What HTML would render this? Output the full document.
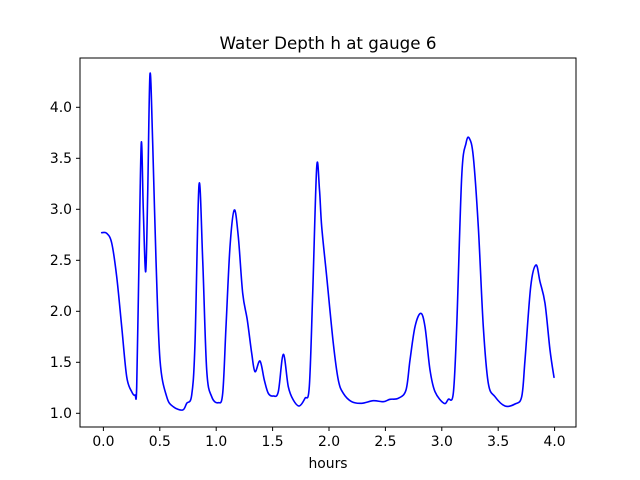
<!DOCTYPE html>
<html><head><meta charset="utf-8"><style>
html,body{margin:0;padding:0;background:#fff;}
svg{display:block;}
text{font-family:"DejaVu Sans","Liberation Sans",sans-serif;font-size:13.9px;fill:#000;}
</style></head><body>
<svg width="640" height="480" viewBox="0 0 640 480" xmlns="http://www.w3.org/2000/svg">
<rect width="640" height="480" fill="#fff"/>
<polyline id="pl" fill="none" stroke="#0000ff" stroke-width="1.6" stroke-linejoin="round" stroke-linecap="round" points="
101.7,232.7 106.7,233.3 111.7,243 116.7,276.7 121.7,326.7 126.7,376.7 131.7,391.7 135,395 136.7,386.7 139,260 141.3,142.7 143.3,210 145.7,271.7 147.7,193.3 150,74 152.7,143.3 156,260 160,360 166.7,396.7 173.3,406.7 182.7,410 186.7,403.3 191.7,395 195,343.3 199,185 202.7,260 206.7,370 211.7,396.7 218.3,402.7 222.7,393.3 226,326.7 230,246.7 234.3,210 238.3,236.7 242.7,293.3 247.3,320 251.7,353.3 255,371.7 260,361 264.3,380 268.3,393.3 273.3,396 278.3,391.7 283.3,354.3 288.3,386.7 293.3,400 299.3,406 305,398.3 309.3,386.7 312.7,293.3 316.7,167.3 319.5,190 321.7,226.7 326.7,276.7 333.3,343.3 338.3,380 343.3,393.3 351.7,401.7 361.7,403.3 373.3,400.7 383.3,401.7 390,399.3 398.3,398.3 406,390 410,360 415,326.7 420.7,313.3 425,326.7 430,370 435,391.7 444,403.3 448.3,399.3 453.3,393.3 456.7,326.7 461.7,176.7 466,143.3 469.3,138.3 473.3,156.7 478.3,226.7 483.3,326.7 488.3,383.3 495,396.7 505,406 515,404 521.7,396.7 525,360 530.7,286.7 536,265 540,281.7 545,303.3 550,350 554,377.3"/>
<path id="sm" fill="none" stroke="#0000ff" stroke-width="1.6" stroke-linejoin="round" stroke-linecap="round" d=""/>
<rect x="80" y="58" width="496" height="369" fill="none" stroke="#000" stroke-width="1"/>
<g stroke="#000" stroke-width="1">
<line x1="103.4" y1="427" x2="103.4" y2="431"/><line x1="159.8" y1="427" x2="159.8" y2="431"/><line x1="216.2" y1="427" x2="216.2" y2="431"/><line x1="272.6" y1="427" x2="272.6" y2="431"/><line x1="329" y1="427" x2="329" y2="431"/><line x1="385.4" y1="427" x2="385.4" y2="431"/><line x1="441.8" y1="427" x2="441.8" y2="431"/><line x1="498.2" y1="427" x2="498.2" y2="431"/><line x1="554.6" y1="427" x2="554.6" y2="431"/>
<line x1="76" y1="413.3" x2="80" y2="413.3"/><line x1="76" y1="362.3" x2="80" y2="362.3"/><line x1="76" y1="311.3" x2="80" y2="311.3"/><line x1="76" y1="260.3" x2="80" y2="260.3"/><line x1="76" y1="209.3" x2="80" y2="209.3"/><line x1="76" y1="158.3" x2="80" y2="158.3"/><line x1="76" y1="107.3" x2="80" y2="107.3"/>
</g>
<g text-anchor="middle">
<text x="103.4" y="446">0.0</text><text x="159.8" y="446">0.5</text><text x="216.2" y="446">1.0</text><text x="272.6" y="446">1.5</text><text x="329" y="446">2.0</text><text x="385.4" y="446">2.5</text><text x="441.8" y="446">3.0</text><text x="498.2" y="446">3.5</text><text x="554.6" y="446">4.0</text>
<text x="328" y="468">hours</text>
<text x="328" y="49" style="font-size:16.7px">Water Depth h at gauge 6</text>
</g>
<g text-anchor="end">
<text x="72" y="418">1.0</text><text x="72" y="367">1.5</text><text x="72" y="316">2.0</text><text x="72" y="265">2.5</text><text x="72" y="214">3.0</text><text x="72" y="163">3.5</text><text x="72" y="112">4.0</text>
</g>
</svg>
<script>
(function(){
var pl=document.getElementById('pl');
var p=pl.getAttribute('points').trim().split(/\s+/).map(function(s){return s.split(',').map(Number);});
var d='M'+p[0][0]+','+p[0][1];
for(var i=0;i<p.length-1;i++){
var p0=p[i-1]||p[i],p1=p[i],p2=p[i+1],p3=p[i+2]||p[i+1];
var c1x=p1[0]+(p2[0]-p0[0])/6,c1y=p1[1]+(p2[1]-p0[1])/6;
var c2x=p2[0]-(p3[0]-p1[0])/6,c2y=p2[1]-(p3[1]-p1[1])/6;
d+=' C'+c1x.toFixed(2)+','+c1y.toFixed(2)+' '+c2x.toFixed(2)+','+c2y.toFixed(2)+' '+p2[0]+','+p2[1];
}
document.getElementById('sm').setAttribute('d',d);
pl.parentNode.removeChild(pl);
})();
</script>
</body></html>
